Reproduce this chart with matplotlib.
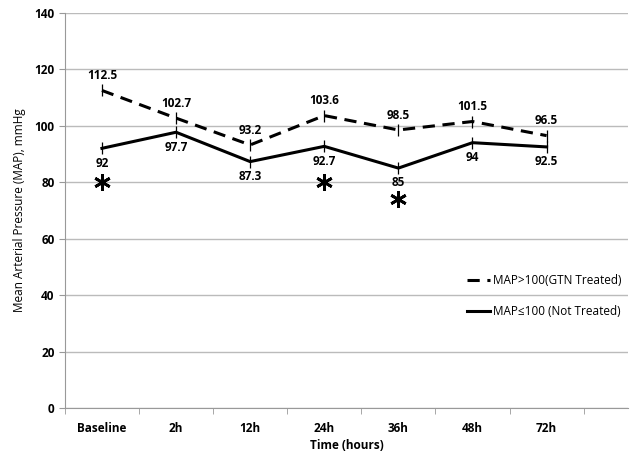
import matplotlib
matplotlib.use("Agg")
import matplotlib.pyplot as plt

plt.rcParams['font.family'] = ['Open Sans', 'DejaVu Sans']

times = ["Baseline", "2h", "12h", "24h", "36h", "48h", "72h"]
gtn_treated = [112.5, 102.7, 93.2, 103.6, 98.5, 101.5, 96.5]
not_treated = [92, 97.7, 87.3, 92.7, 85, 94, 92.5]
# asterisks marking significant time points (category index, y value)
star_idx = [0, 3, 4]
star_y = [80, 80, 74]

fig = plt.figure(figsize=(6.3, 4.57), dpi=100)
ax = fig.add_axes([0.103, 0.107, 0.894, 0.865])

x = list(range(len(times)))
ax.plot(x, gtn_treated, color='black', lw=2.2, ls=(0, (4, 2.5)),
        label='MAP>100(GTN Treated)', zorder=3)
ax.plot(x, not_treated, color='black', lw=2.2,
        label='MAP\u2264100 (Not Treated)', zorder=3)
# small vertical ticks at each data point
ax.plot(x, gtn_treated, ls='none', marker='|', ms=9, mew=0.9, color='black', zorder=3)
ax.plot(x, not_treated, ls='none', marker='|', ms=9, mew=0.9, color='black', zorder=3)

for xi, v in zip(x, gtn_treated):
    ax.annotate(f"{v:g}", (xi, v), xytext=(0, 6), textcoords='offset points',
                ha='center', va='bottom', fontsize=8.5, fontweight='bold')
for xi, v in zip(x, not_treated):
    ax.annotate(f"{v:g}", (xi, v), xytext=(0, -6), textcoords='offset points',
                ha='center', va='top', fontsize=8.5, fontweight='bold')
ax.plot(star_idx, star_y, ls='none', marker=(6, 2, 0), ms=12, mew=2.0, color='black')

ax.set_ylim(0, 140)
ax.set_yticks(range(0, 141, 20))
ax.set_xlim(-0.5, 7.1)
ax.set_xticks(x)
ax.set_xticklabels(times)
ax.set_xticks([i - 0.5 for i in range(len(times) + 1)], minor=True)
ax.tick_params(axis='x', which='major', length=0, pad=10)
ax.tick_params(axis='x', which='minor', length=4, color='#999999')
ax.tick_params(axis='y', length=4, color='#999999')
for lab in ax.get_xticklabels() + ax.get_yticklabels():
    lab.set_fontweight('bold')
    lab.set_fontsize(8.5)

ax.yaxis.grid(True, color='#bbbbbb', lw=1)
ax.set_axisbelow(True)
for s in ['top', 'right']:
    ax.spines[s].set_visible(False)
for s in ['left', 'bottom']:
    ax.spines[s].set_color('#999999')

ax.set_xlabel('Time (hours)', fontsize=8.5, fontweight='bold', labelpad=3)
ax.set_ylabel('Mean Arterial Pressure (MAP), mmHg', fontsize=8.5, labelpad=6)

ax.legend(loc='center right', bbox_to_anchor=(1.0, 0.284), frameon=False,
          fontsize=8.5, handlelength=2.0, handletextpad=0.2, labelspacing=1.5,
          borderaxespad=0.2)

fig.savefig('out.png', dpi=100)
